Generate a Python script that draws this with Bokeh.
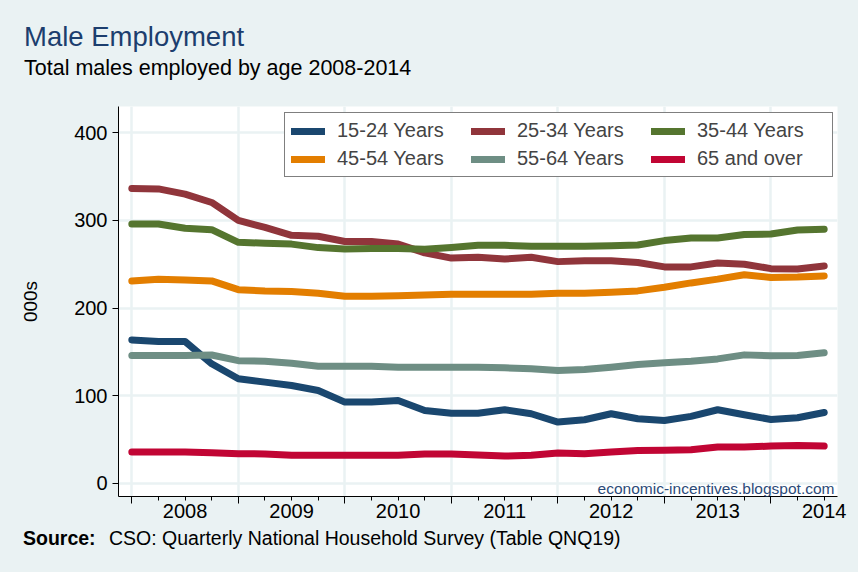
from bokeh.plotting import figure
from bokeh.layouts import column
from bokeh.models import (FixedTicker, LinearAxis, Range1d, Legend, LegendItem, Label,
                          CustomLabelingPolicy, Div)
from bokeh.embed import file_html
from bokeh.resources import INLINE

# ---- data (thousands of males employed, quarterly 2008Q1 - 2014Q3) ----
quarter_index = list(range(27))
year_tick_pos = [2, 6, 10, 14, 18, 22, 26]
year_labels = ["2008", "2009", "2010", "2011", "2012", "2013", "2014"]
year_start_pos = [0, 4, 8, 12, 16, 20, 24]
y_ticks = [0, 100, 200, 300, 400]

age_15_24 = [163.7, 161.8, 161.8, 136.4, 119.3, 115.5, 111.7, 106.0, 92.7, 92.7,
             94.6, 83.2, 80.1, 80.1, 84.0, 79.4, 69.9, 72.6, 79.4, 73.7,
             71.8, 76.4, 84.0, 78.3, 72.9, 74.9, 80.9]
age_25_34 = [336.5, 336.0, 330.0, 320.5, 300.0, 292.0, 283.0, 282.0, 276.0, 276.0,
             273.0, 263.0, 257.0, 258.0, 256.0, 258.0, 253.0, 254.0, 254.0, 252.0,
             247.0, 247.0, 251.5, 250.0, 245.0, 244.6, 248.0]
age_35_44 = [296.0, 296.0, 291.0, 289.5, 275.0, 274.0, 273.0, 269.0, 267.5, 268.0,
             268.0, 267.0, 269.0, 271.6, 271.6, 270.5, 270.5, 270.5, 271.0, 272.0,
             277.0, 280.0, 280.0, 284.0, 284.5, 289.0, 290.0]
age_45_54 = [231.0, 233.0, 232.0, 231.0, 221.0, 219.6, 219.0, 217.0, 213.5, 213.5,
             214.0, 215.0, 215.7, 215.7, 215.7, 215.7, 217.0, 217.0, 218.0, 219.6,
             223.7, 228.7, 233.0, 238.0, 235.0, 235.5, 236.7]
age_55_64 = [145.9, 145.9, 146.0, 146.5, 140.0, 139.4, 137.0, 133.7, 133.7, 133.7,
             132.6, 132.6, 132.6, 132.6, 131.8, 130.7, 128.8, 129.9, 132.6, 135.6,
             137.5, 139.4, 142.0, 146.6, 145.5, 146.0, 148.9]
age_65_plus = [35.7, 35.7, 35.7, 35.0, 33.8, 33.6, 32.0, 32.0, 32.0, 32.0,
               32.0, 33.4, 33.4, 32.3, 31.1, 32.0, 34.6, 33.8, 35.7, 37.6,
               37.8, 38.4, 41.4, 41.4, 42.5, 43.3, 42.5]

series_names = ["15-24 Years", "25-34 Years", "35-44 Years",
                "45-54 Years", "55-64 Years", "65 and over"]
series_values = [age_15_24, age_25_34, age_35_44, age_45_54, age_55_64, age_65_plus]
series_colors = ["#1A476F", "#90353B", "#55752F", "#E37E00", "#6E8E84", "#C10534"]

FONT = "Liberation Sans"
BG = "#EAF2F3"
W = 858
HEAD_H = 90
MAIN_H = 436
FOOT_H = 572 - HEAD_H - MAIN_H


def span(left, top, size, color, text, bold=False):
    weight = "bold" if bold else "normal"
    return (f'<div style="position:absolute;left:{left}px;top:{top}px;'
            f"font-family:'{FONT}';font-size:{size}px;line-height:{size}px;"
            f'font-weight:{weight};color:{color};white-space:nowrap;margin:0;padding:0;">'
            f'{text}</div>')


def box(height, inner):
    return (f'<div style="position:relative;width:{W}px;height:{height}px;'
            f'overflow:visible;margin:0;padding:0;">{inner}</div>')


# ---------------- header ----------------
head_html = box(HEAD_H,
                span(24, 22.7, 27.5, "#1C3E6E", "Male Employment") +
                span(24, 57.8, 21.5, "black", "Total males employed by age 2008-2014"))
head = Div(text=head_html, width=W, height=HEAD_H, margin=(0, 0, 0, 0),
           styles={"background-color": BG})

# ---------------- main chart ----------------
p = figure(width=W, height=MAIN_H, output_backend="svg", toolbar_location=None,
           x_range=Range1d(-0.5, 26.5), y_range=Range1d(-15, 430),
           min_border_left=118, min_border_right=W - 837,
           min_border_top=106 - HEAD_H, min_border_bottom=HEAD_H + MAIN_H - 496)
p.background_fill_color = "white"
p.border_fill_color = BG
p.outline_line_color = None

p.xgrid.ticker = FixedTicker(ticks=year_start_pos)
p.ygrid.ticker = FixedTicker(ticks=y_ticks)
for g in (p.xgrid, p.ygrid):
    g.grid_line_color = BG
    g.grid_line_width = 2.5

# x axis 1 : tick marks only (labels suppressed)
xa = p.xaxis[0]
xa.ticker = FixedTicker(ticks=year_start_pos, minor_ticks=quarter_index)
xa.major_tick_out = 7
xa.major_tick_in = 0
xa.minor_tick_out = 4
xa.minor_tick_in = 0
xa.major_label_text_font_size = "1px"
xa.major_label_standoff = 0
xa.major_label_policy = CustomLabelingPolicy(
    code="for (const i of indices) { indices.unset(i) }\nreturn indices")
xa.axis_line_color = "black"
xa.major_tick_line_color = "black"
xa.minor_tick_line_color = "black"

# x axis 2 : year labels centred on each year
xl = LinearAxis(ticker=FixedTicker(ticks=year_tick_pos, minor_ticks=[]),
                major_label_overrides={t: s for t, s in zip(year_tick_pos, year_labels)},
                axis_line_color=None, major_tick_line_color=None,
                minor_tick_line_color=None, major_label_standoff=-10,
                major_label_text_font=FONT, major_label_text_font_size="20px",
                major_label_text_color="black")
p.add_layout(xl, "below")

ya = p.yaxis[0]
ya.ticker = FixedTicker(ticks=y_ticks, minor_ticks=[])
ya.major_tick_out = 6
ya.major_tick_in = 0
ya.minor_tick_line_color = None
ya.major_label_standoff = 5
ya.major_label_text_font = FONT
ya.major_label_text_font_size = "20px"
ya.major_label_text_color = "black"
ya.axis_line_color = "black"
ya.axis_label = "000s"
ya.axis_label_text_font = FONT
ya.axis_label_text_font_size = "19px"
ya.axis_label_text_font_style = "normal"
ya.axis_label_text_color = "black"
ya.axis_label_standoff = 30

renderers = []
for vals, col in zip(series_values, series_colors):
    r = p.line(x=quarter_index, y=vals, line_color=col, line_width=7,
               line_cap="round", line_join="round")
    renderers.append(r)

legend = Legend(items=[LegendItem(label=n, renderers=[r]) for n, r in zip(series_names, renderers)],
                orientation="horizontal", ncols=3, location=(284 - 118, 496 - 177),
                border_line_color="black", border_line_width=1,
                background_fill_color="white", background_fill_alpha=1.0,
                label_text_font=FONT, label_text_font_size="20px",
                glyph_width=34, glyph_height=20, label_height=20, label_width=129,
                label_standoff=12, spacing=5, padding=6, margin=0)
p.add_layout(legend)

p.add_layout(Label(x=716, y=8, x_units="screen", y_units="screen",
                   text="economic-incentives.blogspot.com", text_font=FONT,
                   text_font_size="15.5px", text_color="#2A4A78",
                   text_align="right", text_baseline="alphabetic"))

# ---------------- footer ----------------
foot_top = HEAD_H + MAIN_H
foot_html = box(FOOT_H,
                span(23, 545 - foot_top - 16.5, 19.5, "black", "Source:", bold=True) +
                span(109, 545 - foot_top - 16.5, 19.5, "black",
                     "CSO: Quarterly National Household Survey (Table QNQ19)"))
foot = Div(text=foot_html, width=W, height=FOOT_H, margin=(0, 0, 0, 0),
           styles={"background-color": BG})

layout = column(head, p, foot, spacing=0)

html = file_html(layout, INLINE)
html = html.replace("<head>", "<head><style>html, body { background: #EAF2F3; }</style>", 1)
open("out.html", "w").write(html)
